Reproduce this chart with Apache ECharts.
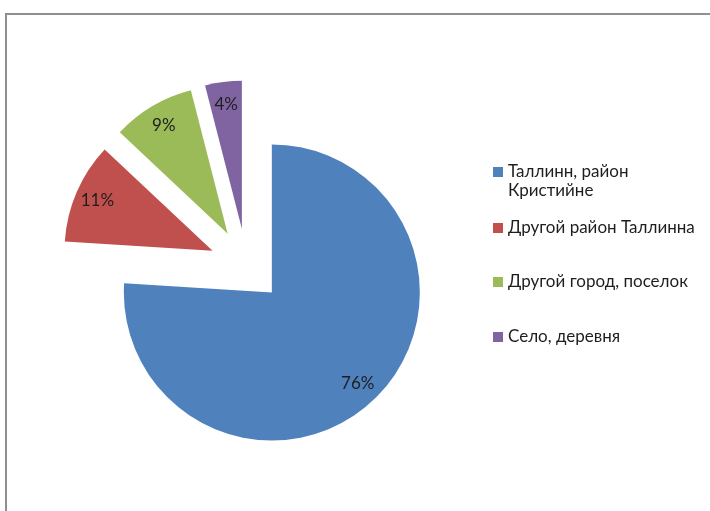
<!DOCTYPE html>
<html>
<head>
<meta charset="utf-8">
<script src="https://cdn.jsdelivr.net/npm/echarts@6/dist/echarts.min.js"></script>
<style>
  html, body { margin: 0; padding: 0; background: #fff; }
  #chart { width: 710px; height: 511px; }
</style>
</head>
<body>
<div id="chart"></div>
<script>
// Place of residence, share of respondents (%)
const categories = ['Таллинн, район Кристийне', 'Другой район Таллинна', 'Другой город, поселок', 'Село, деревня'];
const shares = [76, 11, 9, 4];
const colors = ['#4F81BD', '#C0504D', '#9BBB59', '#8064A2'];

const FONT = 'Lato, "Noto Sans", sans-serif';
const TEXT = '#1e1e1e';
const CENTER = [246.5, 265.5];
const R = 148;
const EXPLODE = 37;
const LINE_H = 19;
// vertical centre of each legend row (first line for the wrapped entry)
const legendRows = [172, 228, 282, 337];

const sliceData = categories.map((name, i) => ({
  name, value: shares[i], selected: true, itemStyle: { color: colors[i] }
}));
const labelData = categories.map((name, i) => ({
  name, value: shares[i], selected: true
}));

// The long first entry wraps onto two lines; a leading blank line keeps
// its marker level with the first line of text.
const legends = categories.map((name, i) => {
  const wrapped = i === 0;
  const blockH = wrapped ? 3 * LINE_H : LINE_H;
  return {
    data: [name],
    left: 493,
    top: legendRows[i] - blockH / 2,
    padding: 0,
    orient: 'vertical',
    icon: 'rect',
    itemWidth: 10,
    itemHeight: 10,
    selectedMode: false,
    formatter: n => wrapped ? '\n' + n.replace(' Кристийне', '\nКристийне') : n,
    textStyle: { fontFamily: FONT, fontSize: 17, color: TEXT, lineHeight: LINE_H }
  };
});

const chart = echarts.init(document.getElementById('chart'), null, { renderer: 'canvas' });
chart.setOption({
  animation: false,
  backgroundColor: '#ffffff',
  legend: legends,
  graphic: [{
    type: 'rect',
    silent: true,
    shape: { x: 6, y: 14, width: 740, height: 540 },
    style: { fill: 'none', stroke: '#8f8f8f', lineWidth: 2 }
  }],
  series: [
    {
      name: 'slices',
      type: 'pie',
      center: CENTER,
      radius: [0, R],
      startAngle: 90,
      clockwise: true,
      selectedMode: 'multiple',
      selectedOffset: EXPLODE,
      data: sliceData,
      label: { show: false },
      labelLine: { show: false },
      emphasis: { disabled: true },
      silent: true
    },
    {
      // percentage labels, placed toward the outer part of each slice
      name: 'labels',
      type: 'pie',
      center: CENTER,
      radius: [97, R],
      startAngle: 90,
      clockwise: true,
      selectedMode: 'multiple',
      selectedOffset: EXPLODE,
      data: labelData,
      itemStyle: { color: 'rgba(0,0,0,0)' },
      label: {
        show: true, position: 'inside', formatter: '{c}%',
        fontFamily: FONT, fontSize: 17, color: TEXT
      },
      labelLine: { show: false },
      emphasis: { disabled: true },
      silent: true
    }
  ]
});
</script>
</body>
</html>
